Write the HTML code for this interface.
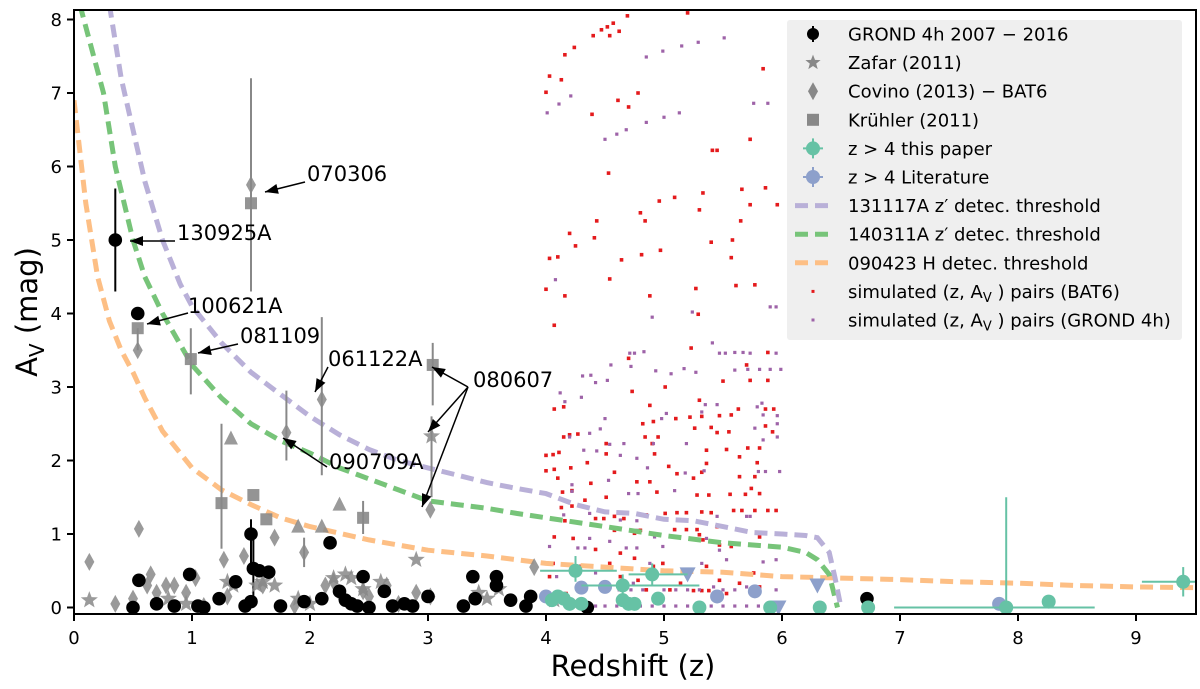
<!DOCTYPE html>
<html><head><meta charset="utf-8">
<style>
html,body{margin:0;padding:0;background:#fff;}
svg{display:block;font-family:"DejaVu Sans","Liberation Sans",sans-serif;}
</style></head>
<body>
<svg id="chart" width="1200" height="689" viewBox="0 0 1200 689" xmlns="http://www.w3.org/2000/svg">
<defs><clipPath id="plotclip"><rect x="74" y="10" width="1122" height="604"/></clipPath></defs>
<rect x="0" y="0" width="1200" height="689" fill="#fff"/>
<g id="plot" clip-path="url(#plotclip)"></g>
<g id="axes"></g>
<g id="annot"></g>
<g id="legend"></g>
</svg>
<script>
// ---- data ----
const xTicks=[0,1,2,3,4,5,6,7,8,9];
const yTicks=[0,1,2,3,4,5,6,7,8];
const grondZ=[0.35,0.54,1.5,2.17,0.5,0.55,0.7,0.85,0.98,1.05,1.1,1.23,1.37,1.45,1.5,1.52,1.57,1.65,1.75,1.95,2.1,2.25,2.3,2.35,2.4,2.45,2.5,2.63,2.7,2.8,2.87,3.0,3.3,3.38,3.4,3.58,3.58,3.7,3.83,3.87,4.35,6.72];
const grondA=[5.0,4.0,1.0,0.88,0.0,0.37,0.05,0.02,0.45,0.02,0.0,0.12,0.35,0.02,0.08,0.53,0.5,0.48,0.02,0.08,0.12,0.22,0.1,0.05,0.02,0.42,0.0,0.22,0.02,0.05,0.02,0.15,0.02,0.42,0.12,0.42,0.3,0.1,0.02,0.15,0.0,0.12];
const grondErrZ=[0.35,1.5,1.52];
const grondErrLo=[4.3,0.6,0.1];
const grondErrHi=[5.7,1.2,1.0];
const zafarZ=[0.13,0.8,0.95,1.3,1.35,1.55,1.6,1.7,1.9,2.0,2.2,2.3,2.35,2.45,2.6,2.9,3.03,3.43,3.5,3.6,4.07];
const zafarA=[0.1,0.12,0.05,0.35,0.3,0.3,0.35,0.3,0.12,0.05,0.4,0.45,0.4,0.25,0.35,0.65,2.33,0.2,0.12,0.25,0.1];
const covinoZ=[0.13,0.35,0.5,0.55,0.54,0.62,0.65,0.7,0.78,0.85,0.95,1.03,1.1,1.27,1.3,1.44,1.5,1.6,1.7,1.8,1.87,1.95,2.1,2.13,2.2,2.25,2.45,2.5,2.65,2.75,2.9,3.02,3.02,3.9];
const covinoA=[0.62,0.05,0.12,1.07,3.5,0.3,0.45,0.2,0.3,0.3,0.2,0.4,0.02,0.65,0.15,0.7,5.75,0.3,0.95,2.38,0.02,0.75,2.83,0.3,0.35,0.2,0.22,0.15,0.3,0.05,0.2,1.33,0.15,0.55];
const kruhlerZ=[0.54,0.99,1.25,1.5,1.52,1.63,2.45,3.04];
const kruhlerA=[3.8,3.38,1.42,5.5,1.53,1.2,1.22,3.3];
const grayErrZ=[1.5,0.99,1.25,2.1,1.8,3.04,3.03,0.54,2.45,1.95];
const grayErrLo=[4.3,2.9,0.8,1.8,2.0,2.75,1.5,3.5,1.0,0.55];
const grayErrHi=[7.2,3.8,2.5,3.95,2.95,3.6,2.6,3.8,1.45,0.95];
const triZ=[1.33,1.9,2.1,2.25];
const triA=[2.3,1.1,1.1,1.4];
const paperZ=[4.25,4.05,4.1,4.15,4.2,4.3,4.65,4.65,4.7,4.75,4.9,4.95,5.3,5.9,6.32,6.73,7.9,8.26,9.4];
const paperA=[0.5,0.1,0.15,0.12,0.05,0.05,0.3,0.1,0.05,0.05,0.45,0.12,0.0,0.0,0.0,0.0,0.0,0.08,0.35];
const paperXLo=[3.95,null,null,null,null,null,4.3,null,null,null,4.7,null,null,null,null,null,6.95,null,9.05];
const paperXHi=[4.6,null,null,null,null,null,5.3,null,null,null,5.2,null,null,null,null,null,8.65,null,9.5];
const paperYLo=[0.35,null,null,null,null,null,0.15,null,null,null,0.3,null,null,null,null,null,0.0,null,0.15];
const paperYHi=[0.7,null,null,null,null,null,0.45,null,null,null,0.6,null,null,null,null,null,1.5,null,0.55];
const litZ=[4.0,4.3,4.5,5.45,5.77,7.84];
const litA=[0.15,0.27,0.28,0.15,0.22,0.05];
const litTriZ=[5.2,5.97,6.3];
const litTriA=[0.45,0.0,0.3];
const curveZ131117=[0.3,0.4,0.5,0.6,0.75,0.9,1.0,1.25,1.5,1.75,2.0,2.25,2.5,2.75,3.0,3.25,3.5,3.75,4.0,4.25,4.5,4.75,5.0,5.25,5.5,5.75,6.0,6.2,6.3,6.4,6.45,6.5];
const curveA131117=[8.2,7.2,6.5,5.8,5.0,4.4,4.1,3.6,3.2,2.9,2.6,2.35,2.15,2.0,1.9,1.8,1.7,1.62,1.55,1.4,1.3,1.28,1.2,1.18,1.1,1.02,1.0,0.98,0.95,0.75,0.4,0.0];
const curveZ140311=[0.05,0.15,0.25,0.35,0.5,0.6,0.75,1.0,1.25,1.5,1.75,2.0,2.25,2.5,2.75,3.0,3.25,3.5,3.75,4.0,4.5,5.0,5.5,6.0,6.2,6.3,6.4,6.47];
const curveA140311=[8.2,7.6,7.0,6.0,5.0,4.5,4.0,3.3,2.85,2.5,2.27,2.1,1.9,1.75,1.6,1.45,1.4,1.35,1.28,1.22,1.1,0.98,0.88,0.82,0.75,0.65,0.45,0.0];
const curveZ090423=[0,0.1,0.2,0.3,0.4,0.5,0.6,0.75,0.9,1.0,1.25,1.5,1.75,2.0,2.5,3.0,3.5,4.0,4.5,5.0,5.5,6.0,6.5,7.0,7.5,8.0,8.5,9.0,9.5];
const curveA090423=[6.9,5.5,4.5,3.9,3.5,3.2,2.85,2.4,2.1,1.9,1.6,1.4,1.22,1.1,0.92,0.78,0.7,0.6,0.55,0.5,0.48,0.42,0.4,0.38,0.35,0.33,0.3,0.28,0.27];
const simRedZ=[4.69,5.20,4.57,4.47,4.52,4.62,4.54,4.40,4.24,4.16,4.03,4.13,4.0,4.78,4.61,4.70,4.39,5.84,5.73,5.41,5.45,4.53,5.66,5.86,5.33,5.09,4.96,5.73,5.96,5.30,4.80,4.84,4.43,5.65,4.20,4.41,4.25,5.58,5.40,4.03,4.10,4.64,4.81,4.97,5.57,4.54,4.0,4.16,4.88,5.27,5.61,5.77,4.07,5.29,5.23,5.88,5.70,4.70,5.50,5.73,5.88,5.01,4.73,4.07,4.15,4.88,5.30,5.63,5.86,5.93,5.10,5.22,5.32,5.47,5.57,4.91,4.82,5.26,5.40,5.45,5.55,5.86,5.92,4.15,4.20,4.27,4.51,4.84,4.90,4.95,5.53,5.71,5.81,4.0,4.06,4.11,4.51,4.92,5.36,5.64,4.0,4.07,4.21,4.35,5.04,5.11,5.25,5.32,5.36,5.64,5.77,5.79,4.10,4.38,4.77,4.88,5.74,4.14,4.22,4.58,4.94,5.28,5.38,5.56,5.69,5.81,4.33,4.13,4.22,4.51,4.58,4.85,5.01,5.11,5.19,5.32,5.40,5.59,5.66,5.77,5.88,5.95,4.16,4.22,4.42,4.49,4.66,4.07,4.23,4.42,4.58,4.75,4.80,5.09,5.19,5.28,5.30,5.45,5.81,5.33,5.47,5.57,5.79,4.75,4.63,4.91,5.36,4.06,4.29,4.54,4.03,4.63,4.78,4.99,5.14,5.47,5.64,5.76,5.05,5.25,5.32,5.38,4.85,4.17,5.53,5.81];
const simRedA=[8.05,8.09,7.95,7.86,7.9,7.84,7.78,7.78,7.62,7.52,7.23,7.18,7.01,7.0,6.9,6.81,6.71,7.33,6.37,6.22,6.22,5.91,5.69,5.71,5.64,5.58,5.53,5.48,5.48,5.41,5.37,5.26,5.26,5.26,5.09,5.03,4.92,5.0,4.97,4.75,4.77,4.73,4.80,4.86,4.76,4.47,4.33,4.24,4.24,4.34,4.38,4.39,3.84,3.99,3.53,3.47,3.30,3.39,3.08,3.09,3.09,3.0,2.94,2.70,2.73,2.75,2.82,2.70,2.70,2.70,2.57,2.59,2.60,2.61,2.62,2.53,2.50,2.44,2.45,2.38,2.39,2.47,2.39,2.32,2.35,2.36,2.23,2.32,2.23,2.32,2.15,2.17,2.17,2.07,2.08,2.11,2.09,2.09,2.14,2.05,1.86,1.88,1.90,1.97,1.92,1.82,1.76,1.84,1.96,1.78,1.78,1.97,1.76,1.69,1.71,1.71,1.62,1.57,1.59,1.84,1.57,1.53,1.53,1.54,1.54,1.55,1.46,1.36,1.38,1.50,1.24,1.26,1.28,1.29,1.29,1.30,1.29,1.32,1.32,1.32,1.32,1.32,1.18,1.17,1.21,1.21,1.21,0.96,0.94,0.79,1.05,1.01,1.05,1.06,1.06,1.06,0.99,1.10,0.96,0.92,0.85,0.83,0.85,0.67,0.74,0.56,0.56,0.60,0.56,0.60,0.42,0.42,0.37,0.60,0.33,0.37,0.33,0.47,0.24,0.23,0.23,0.23,0.24,0.19,0.19,0.28];
const simPurZ=[4.85,4.99,5.15,5.29,5.51,4.21,4.11,4.01,4.85,5.0,5.13,4.50,4.60,4.68,5.76,5.88,4.08,5.90,5.95,4.90,5.24,5.41,4.71,4.75,4.83,5.47,5.52,5.60,5.67,5.73,5.95,4.55,4.72,4.93,5.06,5.17,5.27,5.60,5.71,5.81,5.90,5.99,4.12,4.30,4.42,4.52,4.16,4.38,4.31,4.50,4.46,4.37,4.20,4.54,4.66,4.32,4.43,4.63,4.77,4.86,4.53,4.70,4.78,5.09,5.18,5.34,5.80,5.86,5.98,5.84,5.96,5.96,5.96,5.84,5.79,5.83,5.77,5.19,4.91,5.02,4.98,5.32,5.35,5.45,4.22,4.22,4.15,4.37,4.63,4.77,4.77,4.92,5.10,5.45,5.70,5.73,5.36,5.47,4.27,4.33,4.03,4.37,4.54,4.68,4.77,4.99,5.84,5.95,5.53,4.09,4.42,4.88,5.32,4.74,5.42,4.97,5.70,5.95,4.25,4.33,4.42,4.5,4.6,4.7,4.8,4.9,5.0,5.1,5.2,5.3,5.4,5.5,5.6,5.7,5.8,5.9,4.62,4.72,4.82,5.0,5.1,5.2,5.3,5.5,5.6];
const simPurA=[7.49,7.57,7.64,7.69,7.75,6.96,6.85,6.73,6.6,6.67,6.73,6.37,6.44,6.5,6.86,6.86,4.46,4.09,4.09,3.95,4.02,3.6,3.46,3.46,3.48,3.46,3.46,3.47,3.47,3.46,3.46,3.3,3.28,3.22,3.18,3.25,3.2,3.23,3.24,3.24,3.24,3.24,2.92,2.86,3.06,3.09,2.80,3.16,3.15,2.57,2.43,2.37,2.32,2.22,2.23,2.14,2.13,2.07,2.03,1.90,1.73,1.55,1.55,1.59,1.83,1.86,1.85,1.85,1.85,2.28,2.32,2.50,2.61,2.62,2.73,2.78,2.44,2.23,2.23,2.64,2.57,2.66,2.76,2.76,1.67,1.58,1.26,1.28,1.19,1.18,1.05,0.96,0.96,1.24,1.24,1.24,0.94,0.78,0.81,0.81,0.83,0.94,0.90,0.81,0.81,0.83,0.62,0.65,0.65,0.42,0.47,0.60,0.60,0.33,0.28,0.17,0.28,0.24,0.02,0.02,0.02,0.02,0.02,0.02,0.02,0.02,0.02,0.02,0.02,0.02,0.02,0.02,0.02,0.02,0.02,0.02,0.24,0.24,0.24,0.24,0.24,0.24,0.24,0.24,0.24];
const legendLabels=["GROND 4h 2007 \u2212 2016","Zafar (2011)","Covino (2013)  \u2212 BAT6","Kr\u00fchler (2011)","z > 4 this paper","z > 4 Literature","131117A z\u2032 detec.  threshold","140311A z\u2032 detec.  threshold","090423 H detec.  threshold","simulated (z,  A_V ) pairs (BAT6)","simulated (z,  A_V ) pairs (GROND 4h)"];

// ---- scales ----
const X=z=>74+z*118;
const Y=a=>607.5-a*73.5;
const NS="http://www.w3.org/2000/svg";
function mk(tag,attrs,parent){const e=document.createElementNS(NS,tag);for(const k in attrs)e.setAttribute(k,attrs[k]);parent.appendChild(e);return e;}
const plot=document.getElementById('plot');
const axes=document.getElementById('axes');
const annot=document.getElementById('annot');
const legend=document.getElementById('legend');

// simulated dots
simRedZ.forEach((z,i)=>{const e=mk('rect',{x:X(z)-1.8,y:Y(simRedA[i])-1.8,width:3.6,height:3.6,fill:'#e41a1c'},plot);

});
simPurZ.forEach((z,i)=>{const e=mk('rect',{x:X(z)-1.6,y:Y(simPurA[i])-1.6,width:3.2,height:3.2,fill:'#9e63a8'},plot);

});

// curves
function curve(zs,as,color,name){let d='';zs.forEach((z,i)=>{d+=(i?'L':'M')+X(z).toFixed(1)+','+Y(as[i]).toFixed(1);});
const e=mk('path',{d:d,fill:'none',stroke:color,'stroke-width':5,'stroke-dasharray':'13,7'},plot);

}
curve(curveZ090423,curveA090423,'#fdbf85','threshold-090423');
curve(curveZ140311,curveA140311,'#77c479','threshold-140311a');
curve(curveZ131117,curveA131117,'#b9b0d8','threshold-131117a');

// gray error bars
grayErrZ.forEach((z,i)=>{const e=mk('line',{x1:X(z),x2:X(z),y1:Y(grayErrLo[i]),y2:Y(grayErrHi[i]),stroke:'#888','stroke-width':2},plot);

});
grondErrZ.forEach((z,i)=>{const e=mk('line',{x1:X(z),x2:X(z),y1:Y(grondErrLo[i]),y2:Y(grondErrHi[i]),stroke:'#000','stroke-width':2},plot);

});

// markers
function diamond(cx,cy,w,h){return `M${cx},${cy-h}L${cx+w},${cy}L${cx},${cy+h}L${cx-w},${cy}Z`;}
function star(cx,cy,r){let d='';for(let k=0;k<10;k++){const rr=k%2?r*0.42:r;const a=-Math.PI/2+k*Math.PI/5;d+=(k?'L':'M')+(cx+rr*Math.cos(a)).toFixed(1)+','+(cy+rr*Math.sin(a)).toFixed(1);}return d+'Z';}
covinoZ.forEach((z,i)=>{const e=mk('path',{d:diamond(X(z),Y(covinoA[i]),5,9),fill:'#888','fill-opacity':0.85},plot);

});
zafarZ.forEach((z,i)=>{const e=mk('path',{d:star(X(z),Y(zafarA[i]),9),fill:'#888','fill-opacity':0.85},plot);

});
kruhlerZ.forEach((z,i)=>{const e=mk('rect',{x:X(z)-6,y:Y(kruhlerA[i])-6,width:12,height:12,fill:'#888','fill-opacity':0.9},plot);

});
triZ.forEach((z,i)=>{const cx=X(z),cy=Y(triA[i]);const e=mk('path',{d:`M${cx},${cy-8}L${cx+7},${cy+6}L${cx-7},${cy+6}Z`,fill:'#888','fill-opacity':0.85},plot);

});
grondZ.forEach((z,i)=>{const e=mk('circle',{cx:X(z),cy:Y(grondA[i]),r:6.8,fill:'#000'},plot);

});
// literature
litZ.forEach((z,i)=>{const e=mk('circle',{cx:X(z),cy:Y(litA[i]),r:7,fill:'#8da0cb'},plot);

});
litTriZ.forEach((z,i)=>{const cx=X(z),cy=Y(litTriA[i]);const e=mk('path',{d:`M${cx-8},${cy-7}L${cx+8},${cy-7}L${cx},${cy+8}Z`,fill:'#8da0cb'},plot);

});
// this paper
paperZ.forEach((z,i)=>{
 if(paperXLo[i]!==null){const e=mk('line',{x1:X(paperXLo[i]),x2:X(paperXHi[i]),y1:Y(paperA[i]),y2:Y(paperA[i]),stroke:'#66c2a5','stroke-width':2},plot);
 
 
 const f=mk('line',{x1:X(z),x2:X(z),y1:Y(paperYLo[i]),y2:Y(paperYHi[i]),stroke:'#66c2a5','stroke-width':2},plot);
 
 }
 const c=mk('circle',{cx:X(z),cy:Y(paperA[i]),r:7,fill:'#66c2a5'},plot);
 
 
});

// axes frame
const frame=mk('rect',{x:74,y:10,width:1122,height:604,fill:'none',stroke:'#000','stroke-width':2},axes);


xTicks.forEach(t=>{const x=X(t);mk('line',{x1:x,x2:x,y1:614,y2:621,stroke:'#000','stroke-width':2},axes);
const tx=mk('text',{x:x,y:644,'font-size':18,'text-anchor':'middle',fill:'#000'},axes);tx.textContent=t;

});
yTicks.forEach(t=>{const y=Y(t);mk('line',{x1:67,x2:74,y1:y,y2:y,stroke:'#000','stroke-width':2},axes);
const tx=mk('text',{x:62,y:y+6.5,'font-size':18,'text-anchor':'end',fill:'#000'},axes);tx.textContent=t;

});
const xl=mk('text',{x:633,y:676,'font-size':29,'text-anchor':'middle',fill:'#000'},axes);xl.textContent='Redshift (z)';


const yl=mk('text',{x:0,y:0,'font-size':29,'text-anchor':'middle',fill:'#000',transform:'translate(37,312) rotate(-90)'},axes);
yl.innerHTML='A<tspan font-size="20" dy="7">V</tspan><tspan dy="-7"> (mag)</tspan>';



// annotations
function arrow(x1,y1,x2,y2){mk('line',{x1:x1,y1:y1,x2:x2,y2:y2,stroke:'#000','stroke-width':1.5},annot);
const a=Math.atan2(y2-y1,x2-x1),L=13,W=5;const bx=x2-L*Math.cos(a),by=y2-L*Math.sin(a);
mk('path',{d:`M${x2},${y2}L${bx+W*Math.sin(a)},${by-W*Math.cos(a)}L${bx-W*Math.sin(a)},${by+W*Math.cos(a)}Z`,fill:'#000'},annot);}
function label(t,x,y,name){const e=mk('text',{x:x,y:y+7,'font-size':21,fill:'#000'},annot);e.textContent=t;

}
label('070306',307,174,'label-070306');arrow(305,182,265,192);
label('130925A',177,233,'label-130925a');arrow(175,241,130,241);
label('100621A',188,306,'label-100621a');arrow(188,313,147,324);
label('081109',240,336,'label-081109');arrow(238,344,198,353);
label('061122A',328,359,'label-061122a');arrow(328,367,315,392);
label('080607',473,380,'label-080607');arrow(468,387,432,367);arrow(468,387,428,432);arrow(468,387,422,507);
label('090709A',329,462,'label-090709a');arrow(327,467,283,438);

// legend
const lb=mk('rect',{x:787,y:20,width:395,height:320,fill:'#efefef',rx:3},legend);


legendLabels.forEach((t,i)=>{const y=34+i*28.6;const mx=813;
 const g=mk('g',{},legend);
 
 
 if(i===0){mk('line',{x1:mx,x2:mx,y1:y-8,y2:y+8,stroke:'#000','stroke-width':2},g);mk('circle',{cx:mx,cy:y,r:6,fill:'#000'},g);}
 else if(i===1){mk('path',{d:star(mx,y,8),fill:'#888'},g);}
 else if(i===2){mk('path',{d:diamond(mx,y,5,9),fill:'#888'},g);}
 else if(i===3){mk('rect',{x:mx-6,y:y-6,width:12,height:12,fill:'#888'},g);}
 else if(i===4||i===5){const c=i===4?'#66c2a5':'#8da0cb';mk('line',{x1:mx-10,x2:mx+10,y1:y,y2:y,stroke:c,'stroke-width':2},g);mk('line',{x1:mx,x2:mx,y1:y-10,y2:y+10,stroke:c,'stroke-width':2},g);mk('circle',{cx:mx,cy:y,r:7,fill:c},g);}
 else if(i<=8){const c=['#b9b0d8','#77c479','#fdbf85'][i-6];mk('line',{x1:795,x2:828,y1:y,y2:y,stroke:c,'stroke-width':5,'stroke-dasharray':'13,7'},g);}
 else {mk('rect',{x:mx-1.5,y:y-1.5,width:3,height:3,fill:i===9?'#e41a1c':'#9e63a8'},g);}
 const tx=mk('text',{x:848,y:y+6.5,'font-size':18,fill:'#000'},g);
 if(t.indexOf('A_V')>=0){const parts=t.split('A_V');tx.innerHTML=parts[0]+'A<tspan font-size="13" dy="4">V</tspan><tspan dy="-4">'+parts[1]+'</tspan>';}
 else tx.textContent=t;
});
</script>
</body></html>
